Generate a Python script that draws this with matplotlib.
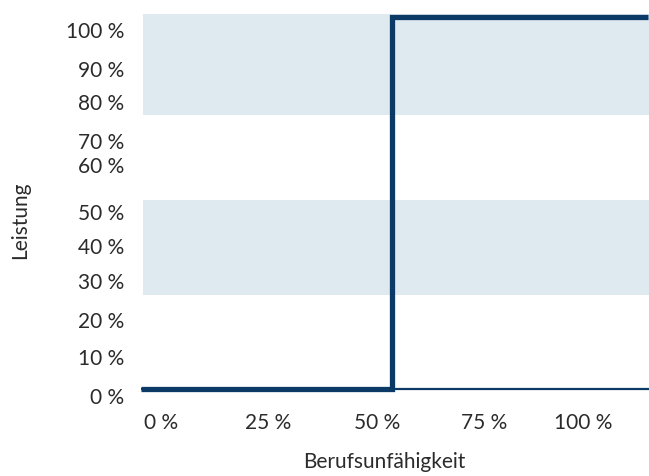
import matplotlib.pyplot as plt

# BU-Grad (x) und Leistung (y), Stufe bei 50 %
bu_grad = [0, 50, 50, 101]
leistung = [0, 0, 100, 100]

# hinterlegte Bereiche
bands = [(25.3, 50.8), (73.7, 100.8)]

x_ticks = [4, 25.3, 47, 68.3, 88]
x_labels = ['0 %', '25 %', '50 %', '75 %', '100 %']
y_ticks = [-1.9, 8.6, 18.5, 29, 38.4, 47.6, 60.2, 66.7, 77.2, 86, 96.5]
y_labels = ['0 %', '10 %', '20 %', '30 %', '40 %', '50 %',
            '60 %', '70 %', '80 %', '90 %', '100 %']

navy = '#0b3a66'
text_col = '#2b2b2b'

plt.rcParams['font.family'] = ['Lato', 'DejaVu Sans']

fig = plt.figure(figsize=(6.49, 4.76), dpi=100)
ax = fig.add_axes([141 / 649, 1 - 405 / 476, 508 / 649, 395 / 476])

for lo, hi in bands:
    ax.axhspan(lo, hi, xmin=0.004, color='#dfe9f0', lw=0, zorder=0)

ax.axhline(0, color=navy, lw=1.6, zorder=1)
ax.plot(bu_grad, leistung, color=navy, lw=3.8, solid_joinstyle='miter',
        solid_capstyle='butt', zorder=2)

ax.set_xlim(0, 101.2)
ax.set_ylim(-4.3, 101.9)
ax.set_xticks(x_ticks)
ax.set_xticklabels(x_labels)
ax.set_yticks(y_ticks)
ax.set_yticklabels(y_labels)
ax.tick_params(length=0, labelsize=15, labelcolor=text_col)
ax.tick_params(axis='y', pad=12)
ax.tick_params(axis='x', pad=6)
for s in ax.spines.values():
    s.set_visible(False)

fig.text(384 / 649, 1 - 462 / 476, 'Berufsunfähigkeit', fontsize=15,
         color=text_col, ha='center', va='center')
fig.text(20 / 649, 1 - 220 / 476, 'Leistung', fontsize=15, rotation=90,
         color=text_col, ha='center', va='center')

fig.savefig('out.png', dpi=100)
